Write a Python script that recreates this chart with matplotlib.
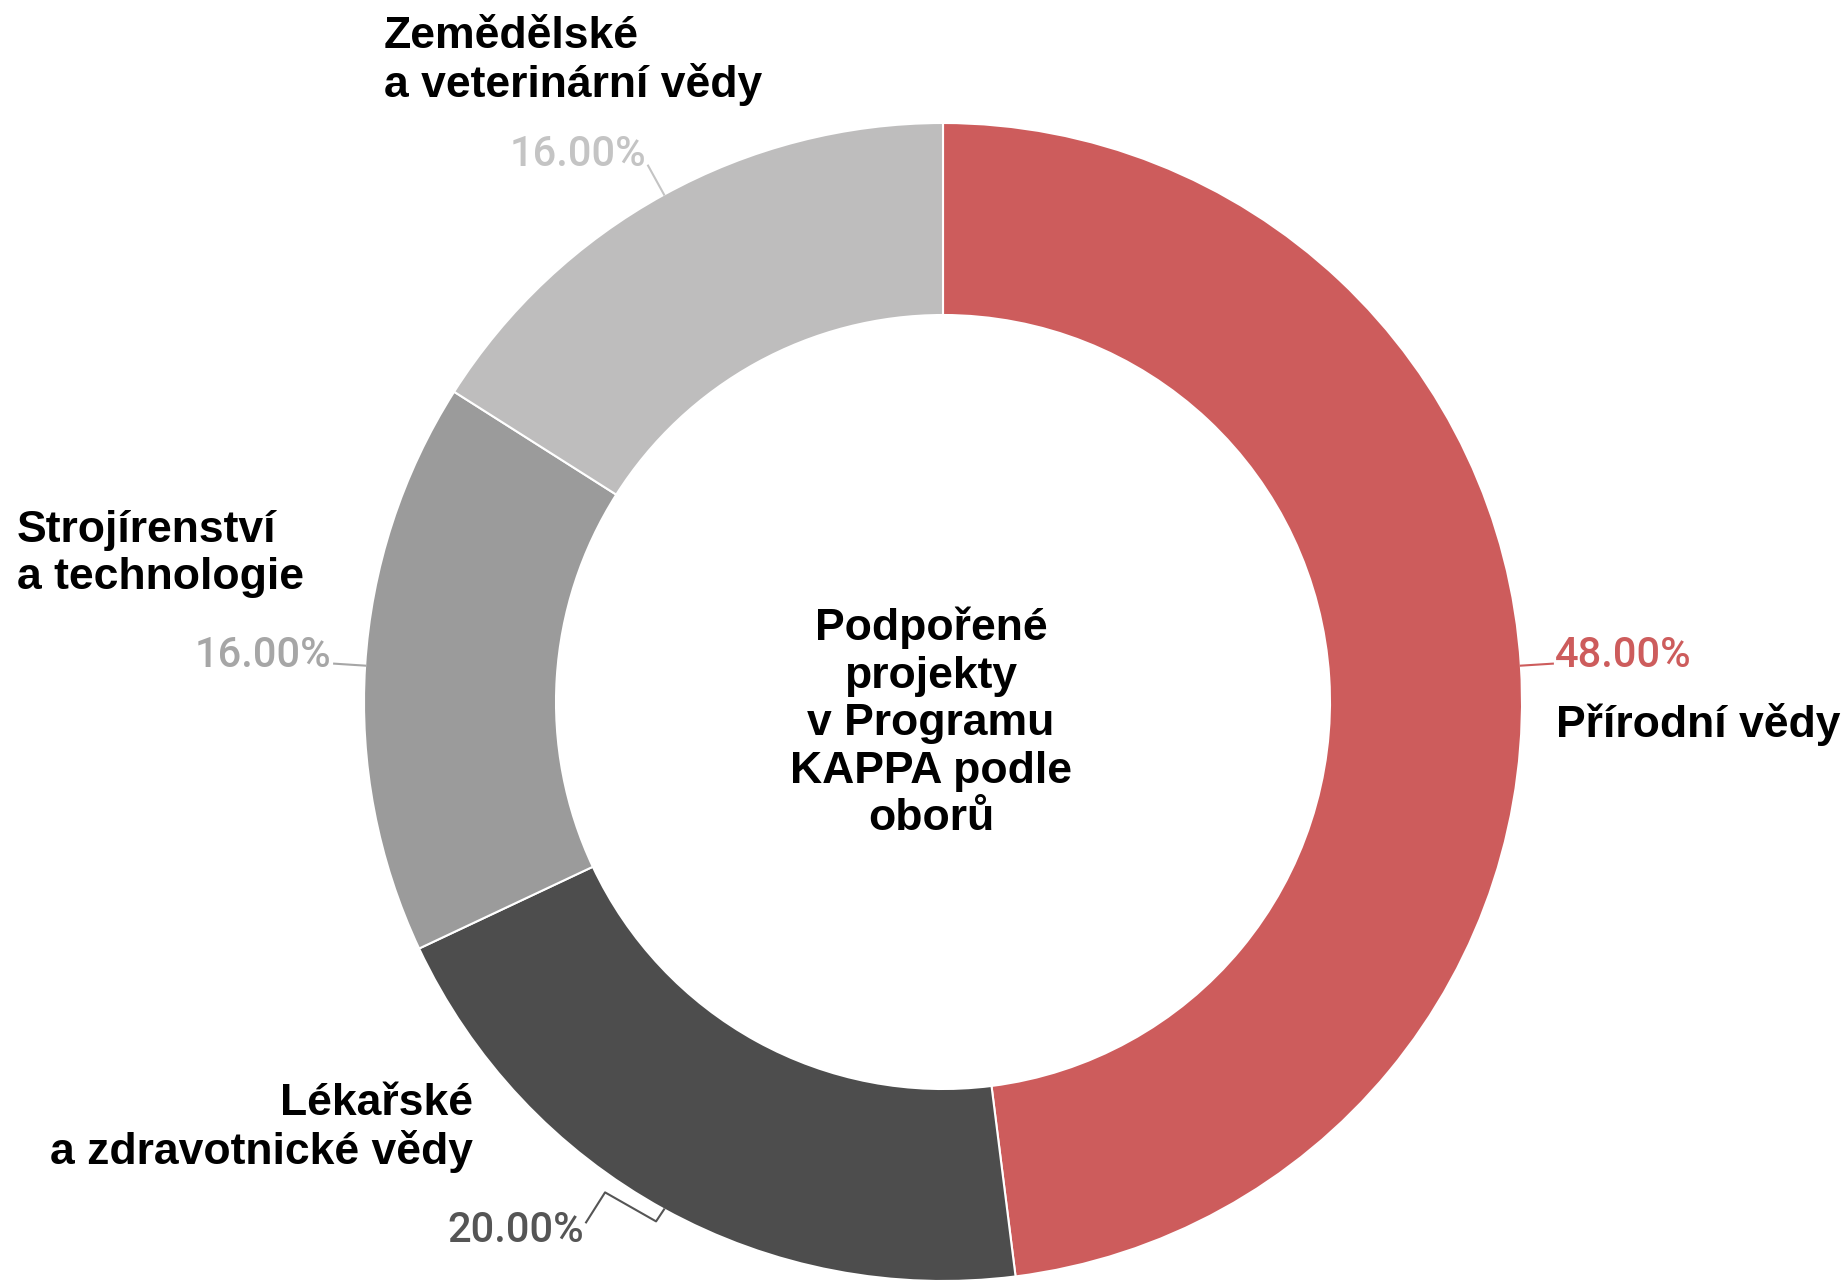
import numpy as np
import matplotlib
matplotlib.use('Agg')
import matplotlib.pyplot as plt

# data
obory = ['Přírodní vědy', 'Lékařské\na zdravotnické vědy',
         'Strojírenství\na technologie', 'Zemědělské\na veterinární vědy']
podily = [48.0, 20.0, 16.0, 16.0]
barvy = ['#CD5C5C', '#4D4D4D', '#9B9B9B', '#BEBDBD']
barvy_popisku = ['#CD5C5C', '#555555', '#A6A6A6', '#C4C4C4']
stred_text = 'Podpořené\nprojekty\nv Programu\nKAPPA podle\noborů'

W, H = 1849, 1281
fig = plt.figure(figsize=(W / 100, H / 100), dpi=100)
ax = fig.add_axes([0, 0, 1, 1])

# osy v pixelech, y nahoru
def py(y):
    return H - y

cx, cy = 943, 702
R = 579
r_in = 387

ax.pie(podily, colors=barvy, radius=R, center=(cx, py(cy)),
       startangle=90, counterclock=False,
       wedgeprops=dict(width=R - r_in, edgecolor='white', linewidth=1.5))
ax.set_xlim(0, W)
ax.set_ylim(0, H)
ax.set_aspect('equal')
ax.axis('off')

bold = dict(family=['Liberation Sans', 'DejaVu Sans'], fontsize=32,
            fontweight='bold', color='black', linespacing=1.2)
pct = dict(family=['Roboto', 'DejaVu Sans'], fontsize=30, fontweight='medium')

# text uprostred
ax.text(931, py(723), stred_text, ha='center', va='center',
        multialignment='center', **bold)

# stredy vysecí na vnejsim okraji
uhly = 90 - (np.cumsum(podily) - np.array(podily) / 2) * 3.6
kotvy = [(cx + R * np.cos(np.radians(u)), cy - R * np.sin(np.radians(u)))
         for u in uhly]

# popisky procent: lomena cara (posuny od kotvy), pozice textu, zarovnani
cary = [
    [(0, 0), (32, -2)],
    [(0, 0), (-8, 12), (-59, -17), (-78, 13)],
    [(0, 0), (-31, -2)],
    [(0, 0), (-16, -29)],
]
pozice_pct = [(1555, 667), (584, 1242), (331, 667), (646, 166)]
zarovnani = ['left', 'right', 'right', 'right']

for i, (ax0, ay0) in enumerate(kotvy):
    xs = [ax0 + dx for dx, dy in cary[i]]
    ys = [py(ay0 + dy) for dx, dy in cary[i]]
    ax.plot(xs, ys, color=barvy_popisku[i], linewidth=1.5)
    x, y = pozice_pct[i]
    ax.text(x, py(y), f'{podily[i]:.2f}%', ha=zarovnani[i], va='baseline',
            color=barvy_popisku[i], **pct)

# nazvy oboru
pozice_nazvu = [(1556, 724, 'left'), (473, 1128, 'right'),
                (17, 554, 'left'), (384, 61, 'left')]
for nazev, (x, y, ha) in zip(obory, pozice_nazvu):
    ax.text(x, py(y), nazev, ha=ha, va='center', multialignment=ha, **bold)

fig.savefig('out.png', dpi=100, facecolor='white')
